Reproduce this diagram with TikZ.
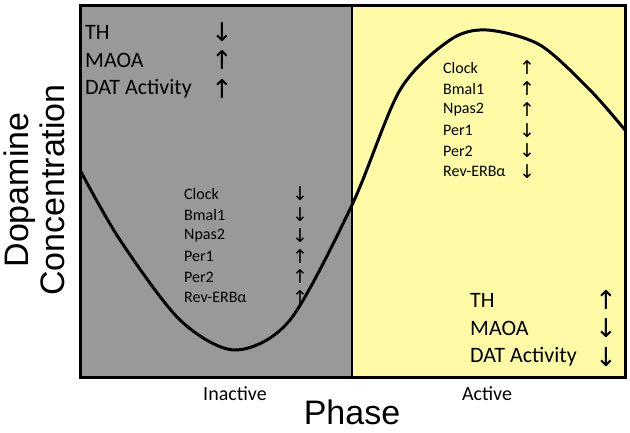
\documentclass[tikz,border=0pt]{standalone}
\usepackage{fontspec}
\setmainfont{Carlito}
\setsansfont{Liberation Sans}
\newfontfamily\arrowfont{DejaVu Sans}
\begin{document}
\begin{tikzpicture}[x=1pt,y=-1pt]
    \tikzstyle{every node}+=[inner sep=0pt]
    \tikzset{biglbl/.style={anchor=west,font=\fontsize{22}{22}\selectfont},
        smalllbl/.style={anchor=west,font=\fontsize{16}{16}\selectfont},
        bigarr/.style={font=\arrowfont\fontsize{26}{26}\selectfont},
        smallarr/.style={font=\arrowfont\fontsize{19}{19}\selectfont},
        axislbl/.style={font=\fontsize{20}{20}\selectfont}}
    \useasboundingbox (0,0) rectangle (630,432);
    \fill [white] (0,0) rectangle (630,432);
    \fill [black!40] (80,5) rectangle (352,377);
    \fill [yellow!35] (352,5) rectangle (625,377);
    \draw [line width=3pt] (80,5) rectangle (625,377);
    \draw [line width=2pt] (352,5) -- (352,377);
    \draw [line width=3pt] plot [smooth] coordinates {(80,170) (120,240) (180,320) (235,350) (290,320) (352,205) (400,90) (450,40) (487,30) (540,45) (590,90) (625,130)};
    % top left
    \node [biglbl] (thl) at (85,32) {TH};
    \node [biglbl] (maoal) at (85,60) {MAOA};
    \node [biglbl] (datl) at (85,89) {DAT Activity};
    \node [bigarr] (athl) at (222,32) {↓};
    \node [bigarr] (amaoal) at (222,60) {↑};
    \node [bigarr] (adatl) at (222,89) {↑};
    % inactive genes
    \foreach \n/\t/\a [count=\i] in {c/Clock/↓,b/Bmal1/↓,n/Npas2/↓,p/Per1/↑,q/Per2/↑,r/Rev-ERBα/↑}{
        \node [smalllbl] (g\n l) at (184,173+20.8*\i) {\t};
        \node [smallarr] (a\n l) at (300,173+20.8*\i) {\a};
    }
    % active genes
    \foreach \n/\t/\a [count=\i] in {c/Clock/↑,b/Bmal1/↑,n/Npas2/↑,p/Per1/↓,q/Per2/↓,r/Rev-ERBα/↓}{
        \node [smalllbl] (g\n r) at (443,47+20.8*\i) {\t};
        \node [smallarr] (a\n r) at (527,47+20.8*\i) {\a};
    }
    % bottom right
    \node [biglbl] (thr) at (470,300) {TH};
    \node [biglbl] (maoar) at (470,328) {MAOA};
    \node [biglbl] (datr) at (470,357) {DAT Activity};
    \node [bigarr] (athr) at (606,300) {↑};
    \node [bigarr] (amaoar) at (606,328) {↓};
    \node [bigarr] (adatr) at (606,357) {↓};
    % axes
    \node [axislbl] (inact) at (235,394) {Inactive};
    \node [axislbl] (act) at (487,394) {Active};
    \node [font=\sffamily\fontsize{34}{34}\selectfont] (phase) at (352,412) {Phase};
    \node [font=\sffamily\fontsize{34}{34}\selectfont,rotate=90,align=center] (yl) at (34,190) {Dopamine\\[2pt]Concentration};
\end{tikzpicture}
\end{document}
